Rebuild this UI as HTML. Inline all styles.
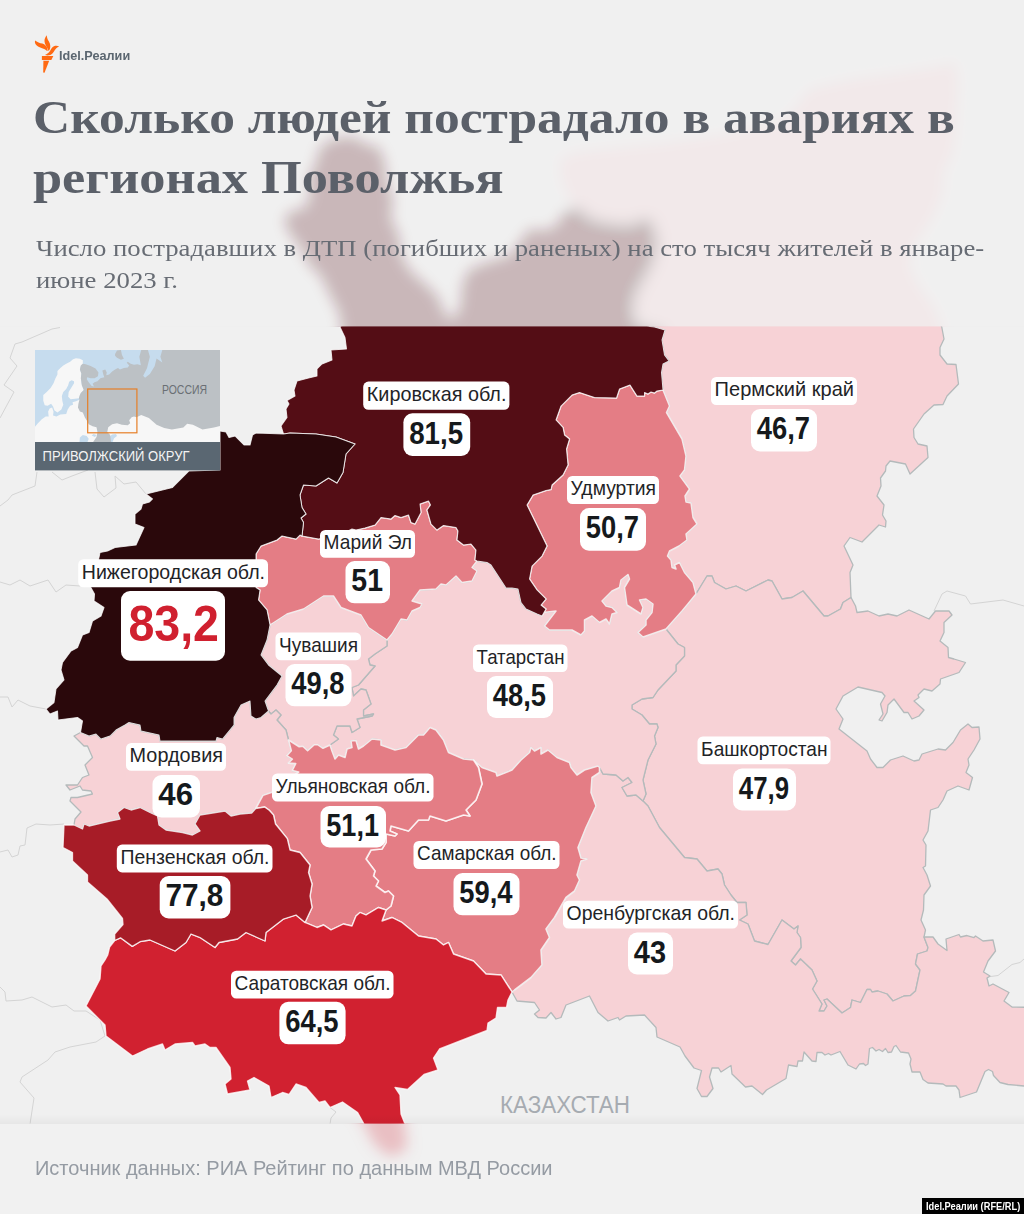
<!DOCTYPE html>
<html lang="ru"><head><meta charset="utf-8"><title>Сколько людей пострадало в авариях в регионах Поволжья</title>
<style>
html,body{margin:0;padding:0}
body{width:1024px;height:1214px;position:relative;overflow:hidden;background:#f0f0f0;font-family:"Liberation Sans",sans-serif}
.map{position:absolute;left:0;top:0;display:block}
.nm{font:20.3px "Liberation Sans",sans-serif;fill:#1f2427}
.vl{font:bold 31px "Liberation Sans",sans-serif;fill:#15191c}
.big{font:bold 49.6px "Liberation Sans",sans-serif;fill:#d0202f}
.shade{position:absolute;left:0;top:1113.6px;width:1024px;height:10px;background:linear-gradient(rgba(0,0,0,0),rgba(0,0,0,.04))}
.logo{position:absolute;left:0;top:0}
.brand{position:absolute;left:59px;top:48.1px;font:bold 12.3px/16px "Liberation Sans",sans-serif;color:#5b6670;white-space:nowrap;transform-origin:0 0;transform:scaleX(1.03)}
h1{position:absolute;left:33.4px;top:86.5px;margin:0;font:bold 47px/60.4px "Liberation Serif",serif;color:#5b6069;white-space:nowrap}
h1 span{display:block;transform-origin:0 0}
h1 .a{transform:scaleX(1.0945)}
h1 .b{transform:scaleX(1.114)}
.sub{position:absolute;left:36px;top:232.5px;margin:0;font:23px/32px "Liberation Serif",serif;color:#676c74;white-space:nowrap;transform-origin:0 0;transform:scaleX(1.1625)}
.src{position:absolute;left:35.2px;top:1155.8px;margin:0;font:20.5px/24px "Liberation Sans",sans-serif;color:#959ba3;white-space:nowrap;transform-origin:0 0;transform:scaleX(.9755)}
.badge{position:absolute;left:922px;top:1197.7px;width:102px;height:16.3px;background:#000;color:#fff;font:bold 11px/16.5px "Liberation Sans",sans-serif;white-space:nowrap;text-align:center}
.badge span{position:absolute;left:3.6px;top:0;display:block;transform-origin:0 0;transform:scaleX(.842)}
</style></head><body>
<svg class="map" width="1024" height="1214" viewBox="0 0 1024 1214">
<defs>
<filter id="bl" filterUnits="userSpaceOnUse" x="0" y="0" width="1024" height="1214"><feGaussianBlur stdDeviation="7"/></filter>
<clipPath id="ch"><rect x="0" y="0" width="1024" height="326.6"/></clipPath>
<clipPath id="cf"><rect x="0" y="1123.6" width="1024" height="90.4"/></clipPath>
<clipPath id="cm"><rect x="0" y="326.6" width="1024" height="797"/></clipPath>
</defs>
<g clip-path="url(#ch)"><g filter="url(#bl)">
<polygon points="654.5,327 600,300 574,207 562,182.6 559,160 574,153 618,148 667.6,143 717,136 756,128 786,118.6 798,104 810,89 854.6,79 894,74 938,67 955.5,62 958,84 955.5,128 953,153 943,172.7 943,192 933,217 913.7,246.5 908.8,266 918.6,286 933,305.6 941.75,327 944,339 940,347.5 940,355 947,364 956,364.5 958.5,384 947,396 943,404.5 934,405 924,414 913.5,429 914,437.5 918,444 927,446 928,457.5 910,474 905.5,464 890,461 886,466 885.5,471 880.5,478 881,486 877,496 884,505 882.5,515 886,521 885.5,527 879,525 862,542 850,537.5 844,546 853,565 850,572.5 851,597.5 843,602.5 840.5,609 828,616 824,616 803,591 792,597.5 782,599 772,581 768,580 746,591 736,586 726,589 714.5,582.5 712,576 707,576 696,594 693,582.5 684.5,572.5 679.5,562.5 674.5,565 676,569 672,567.5 671,560 667.5,556 669.5,551 679,546 687,540 686,534 697,524 693,517.5 691,503 686,502 685,496 689.5,489 680,476 684.5,470 686,456 682,439 666.5,412.5 669.5,406 663,390 661.5,372.5 663,364 669,361 664.5,355 662,340 665,330" fill="#f7d2d6"/>
<polygon points="283.5,434 281,426 287,417.5 286,409 289,404 287,400.5 295,396 294,390 297,381 308.5,378 317,376 317,369 322,364 332,360 331,350 346.5,349 345,337.5 340,327 341.5,325.6 339.5,313 329,293 321,276 308.7,264 300.5,247.7 288,231 284,219 292,210.7 304.6,208.7 310.8,194 308.7,178 317,161.5 319,149 333,139 354,137 366,145 378.4,147 384.6,161.5 386.6,182 392.8,198.4 390.7,219 399,235.4 401,255.9 411,272 425.6,284.6 438,297 444,313 452,319.4 460.5,309 462.5,284.6 468.7,270 489,262 509.7,255.9 522,239.5 530,229 546.6,231 559,223 567,208.7 579.4,206.6 591.7,217 608,221 628.6,223 645,217 653.7,221 660,242 654,265 645,281 638,294 635,306 636.5,322 650,326.5 654.5,327 665,330 662,340 664.5,355 669,361 663,364 661.5,372.5 663,390 657,391 654.5,393 651,392 648,394 644.5,392.5 644.5,396 637,396 630,385 619.5,389 616.5,398 594.5,397.5 579.5,392.5 572,395 561,406 556,420 563,427.5 564.5,435 569.5,439 566.5,449 568,465 563,475 552,485 551,489.5 546,490.5 533,495 527,505 547,546 542,556 532,566 529.5,579 537,590 546,599 541,605 546,609 542,616 537,614 526,609 521,602.5 518,589 512,588 506,588 491,565 487,562.5 477,561 475,560 476,550 471,544 463.5,545 457,540 458,531 456,527.5 443.5,525.5 437,530 431,524 427,510 430.5,505 428.5,501 420,504 421,512.5 415,524 411,522.5 408.5,515 401,517.5 395,515.5 391,519 381,517.5 375,525 365,528 356,530 352,529 340,535 318.5,539 302,536 303.5,522.5 301,518 306,514 302,507.5 300,495 303.5,485 316,486 328.5,478 337,483 343,472.5 346,454 355,444 336,437 316,434 290,433" fill="#540d15"/>
</g><rect x="0" y="0" width="1024" height="326.6" fill="#f0f0f0" fill-opacity=".75"/></g>
<g clip-path="url(#cf)"><g filter="url(#bl)">
<polygon points="114.7,940.5 109.6,947 107.7,955 105,960 101,966 100,979 86,1006 105,1025 106,1036 132.5,1056 147.5,1049 162.5,1044 165,1050 175,1044 192.5,1042.5 195,1046 205,1044 210,1047.5 216,1047.5 230,1067.5 231,1079 225,1084 227.5,1094 250,1090 247.5,1081 254,1077.5 269,1086 271,1097.5 282.5,1092.5 289,1094.5 296,1084 306,1087.5 319,1102.5 325,1101 330,1107.5 342.5,1102 357.6,1112.5 364,1124 374,1144 390,1157 407,1149 405,1124 401,1114 400,1095 395,1087.5 407.5,1089.5 424,1074.5 438,1070 433.5,1058 439.5,1049 487,1030.5 488,1023 496,1018 497.5,1007.5 506.5,1007.5 508,1000 512,992 501,975 486,974 473.5,961 453.5,954 448.5,942.5 443.5,945 436,939 418.5,936 402,922.5 392,917.5 382,921 386,910 378.5,907.5 366,915 360,912.5 356,916 352,926 343.5,924 331,930 323.5,925 317,927.5 305,922.5 296,915 283.5,919 266,932.5 265,941 256,937 246,932.5 237.5,939 219,942.5 215,947.5 200,937.5 191,934 186,942.5 175,951 150,940 140,941.7 132.3,946.4 120.5,937.8" fill="#d12130"/>
<polygon points="512,992 517,1001 534.5,1002.5 539.5,1010 534.5,1014 538,1017.5 546,1018 551,1012.5 556,1019 561,1017.5 566,1005 589.5,996 598,1012.5 608,1021 618,1017.5 619.5,1020 626,1016 644.5,1015 656,1027.5 657,1037 680,1047 685,1056 694,1068 701.5,1070.5 697,1088.5 701.5,1096.5 707,1096.5 713,1088.5 709.5,1077 712,1068 718.5,1068 721,1072 731,1065.5 732,1074 745.5,1087 752,1086 762.5,1094.5 766.5,1090 786,1078.5 788.5,1065 797,1066.5 798,1061 802.5,1061 804,1052 812,1061 816,1061.5 817,1052.5 822,1052.5 825,1055 828.5,1053.5 831,1055 840,1051.5 848,1065 856,1069 859.5,1064 863.5,1063.5 865.5,1065.5 868,1064 869.5,1048.5 872.5,1047.5 876,1051 879,1049.5 882.5,1051.5 885.5,1048.5 888,1052.5 891.5,1052 894,1046.5 896,1045.5 900.5,1052 908.5,1053 911,1059 910,1064 912,1072 920,1072 923,1079.5 928,1083 943,1084 946,1086 956,1086 959,1090 960,1097.5 976.5,1092 985,1071.5 988.5,1069.5 992.5,1071.5 993.5,1075.5 1000,1082.5 1008,1084.5 1024,1086 1034,1086 1034,1007.5 1012,1007 1004,1001 1009,992.5 993,984 989,986 987,978 990,976 983.5,972 988,961 995.5,951 993,940 983,941 975.5,936 974,937.5 967,935.5 960.5,937 959,934.5 946,939 947,950.5 938,944 933,937 924,937 928,947.5 927,951 917.5,954 915.5,964 920,970 915.5,991 910.5,995.5 904,996 893,1001 887,994 878,991 872,992 870.5,989.5 867,989.5 860.5,1002.5 852,1000 850.5,1007.5 842,1013 827,999 824,1000 827,1006 824,1011 819,1011 822,1004 812.5,989 817,981 812,970 800.5,959 795.5,965 791,961 801,947.5 800.5,937.5 797,932.5 798,926 794,929 782,920 768,944.5 754.5,941 748,924 739.5,920 747,915 746,902.5 737,902.5 731,895 724.5,885 722,874 718,869 707,871 697,859 684.5,857.5 659.5,827.5 648,806 643,801 636,795 627,796 622,787.5 632,782.5 628,777.5 623,781 616,775 603,774 599.5,767.5 599.5,772.5 592,777.5 591,792.5 596,806 593,812.5 586,827.5 578,847.5 581,858 587,859 581,861 577,875 579.5,880 574.5,891 566,897.5 554.5,917.5 546,929 549.5,937.5 541,950 542,965 531,977.5 514.5,990" fill="#f7d2d6"/>
</g><rect x="0" y="1123.6" width="1024" height="90.4" fill="#f0f0f0" fill-opacity=".76"/></g>
<g clip-path="url(#cm)">
<polyline points="60,327.5 52,329 22,342 15,344 10,358 17,366 4,385 14,392 0,418" fill="none" stroke="#d4d4d4" stroke-width="1"/>
<polyline points="0,506 8,500 12,495 35,486 37,472" fill="none" stroke="#d4d4d4" stroke-width="1"/>
<polyline points="52,472 62,480 72,476 88,470" fill="none" stroke="#d4d4d4" stroke-width="1"/>
<polyline points="95,472 97,489 104,497 116,488 115,476 124,484 136,482 146,494" fill="none" stroke="#d4d4d4" stroke-width="1"/>
<polyline points="0,582 10,585 20,580 30,586 48,580 56,592 66,585 80,586" fill="none" stroke="#d4d4d4" stroke-width="1"/>
<polyline points="0,697 8,697 12,707 18,700 30,706 46,709" fill="none" stroke="#d4d4d4" stroke-width="1"/>
<polyline points="0,852 8,850 12,857 18,855 20,846 25,845 27,828 36,824 50,825 64,824" fill="none" stroke="#d4d4d4" stroke-width="1"/>
<polyline points="0,987 5,992 6,1001 22,1000 32,997 44,1003 52,1007 66,1005 74,1011 86,1011 100,1020 105,1036" fill="none" stroke="#d4d4d4" stroke-width="1"/>
<polyline points="105,1036 96,1042 70,1047 55,1052 48,1060 22,1077 20,1082 34,1098 30,1124" fill="none" stroke="#d4d4d4" stroke-width="1"/>
<polyline points="934,611 942,594 947,591 965.5,596 970.5,604 1003,600 1024,606" fill="none" stroke="#d4d4d4" stroke-width="1"/>
<polyline points="987,977 998,975.5 1012,964.5 1020,962.5 1024,959" fill="none" stroke="#d4d4d4" stroke-width="1"/>
<polyline points="330,1107.5 336,1112 331,1118 330,1124" fill="none" stroke="#d4d4d4" stroke-width="1"/>
<polygon points="654.5,327 600,300 574,207 562,182.6 559,160 574,153 618,148 667.6,143 717,136 756,128 786,118.6 798,104 810,89 854.6,79 894,74 938,67 955.5,62 958,84 955.5,128 953,153 943,172.7 943,192 933,217 913.7,246.5 908.8,266 918.6,286 933,305.6 941.75,327 944,339 940,347.5 940,355 947,364 956,364.5 958.5,384 947,396 943,404.5 934,405 924,414 913.5,429 914,437.5 918,444 927,446 928,457.5 910,474 905.5,464 890,461 886,466 885.5,471 880.5,478 881,486 877,496 884,505 882.5,515 886,521 885.5,527 879,525 862,542 850,537.5 844,546 853,565 850,572.5 851,597.5 843,602.5 840.5,609 828,616 824,616 803,591 792,597.5 782,599 772,581 768,580 746,591 736,586 726,589 714.5,582.5 712,576 707,576 696,594 693,582.5 684.5,572.5 679.5,562.5 674.5,565 676,569 672,567.5 671,560 667.5,556 669.5,551 679,546 687,540 686,534 697,524 693,517.5 691,503 686,502 685,496 689.5,489 680,476 684.5,470 686,456 682,439 666.5,412.5 669.5,406 663,390 661.5,372.5 663,364 669,361 664.5,355 662,340 665,330" fill="#f7d2d6" stroke="#b4babb" stroke-width="1.3" stroke-linejoin="round"/>
<polygon points="851,597.5 855.5,606 857,612.5 868,611 879,616 888,614 897,616 909,610 929,619 935.5,611 949,611 952,615 944,622.5 944,632.5 940,641 948,647.5 948.5,657.5 954,659 965.5,662.5 959,672.5 940.5,679 940,684 932,691 924,689 918,695 919,697.5 914,701 924,710 919,716 912,719 908,712.5 904,712.5 894,699 888,705 887,712.5 882,721 879,720 883,714 880.5,704 885,696 882,692.5 858,687 843,696 836,709 843,719 839,729 867,751 870.5,759 877,767.5 883,767.5 890.5,760 903,756 914,761 919,760 922,754 938,749 945.5,750 953,742.5 960.5,730 968,724 972,727.5 979,727 980,739 974,750 968,759 969,765 966,772.5 972.5,777.5 969,790 958,786 947,791 943,800 938,807.5 930.5,810 928,831 923,840 926,845 925.5,866 923,867.5 927,875 930.5,886 924,895 923.5,910 921,920 925.5,930 924,937 928,947.5 927,951 917.5,954 915.5,964 920,970 915.5,991 910.5,995.5 904,996 893,1001 887,994 878,991 872,992 870.5,989.5 867,989.5 860.5,1002.5 852,1000 850.5,1007.5 842,1013 827,999 824,1000 827,1006 824,1011 819,1011 822,1004 812.5,989 817,981 812,970 800.5,959 795.5,965 791,961 801,947.5 800.5,937.5 797,932.5 798,926 794,929 782,920 768,944.5 754.5,941 748,924 739.5,920 747,915 746,902.5 737,902.5 731,895 724.5,885 722,874 718,869 707,871 697,859 684.5,857.5 659.5,827.5 648,806 643,801 646,794 643,780 648,760 656,744 654.5,736 658,727.5 657,724 649.5,724 642,715 632,709 632,705 642,699 653,697.5 658,690 676,671 676,665 684.5,656 684.5,647.5 678,644 666,629 682,611 687,605 696,594 707,576 712,576 714.5,582.5 726,589 736,586 746,591 768,580 772,581 782,599 792,597.5 803,591 824,616 828,616 840.5,609 843,602.5" fill="#f7d2d6" stroke="#b4babb" stroke-width="1.3" stroke-linejoin="round"/>
<polygon points="512,992 517,1001 534.5,1002.5 539.5,1010 534.5,1014 538,1017.5 546,1018 551,1012.5 556,1019 561,1017.5 566,1005 589.5,996 598,1012.5 608,1021 618,1017.5 619.5,1020 626,1016 644.5,1015 656,1027.5 657,1037 680,1047 685,1056 694,1068 701.5,1070.5 697,1088.5 701.5,1096.5 707,1096.5 713,1088.5 709.5,1077 712,1068 718.5,1068 721,1072 731,1065.5 732,1074 745.5,1087 752,1086 762.5,1094.5 766.5,1090 786,1078.5 788.5,1065 797,1066.5 798,1061 802.5,1061 804,1052 812,1061 816,1061.5 817,1052.5 822,1052.5 825,1055 828.5,1053.5 831,1055 840,1051.5 848,1065 856,1069 859.5,1064 863.5,1063.5 865.5,1065.5 868,1064 869.5,1048.5 872.5,1047.5 876,1051 879,1049.5 882.5,1051.5 885.5,1048.5 888,1052.5 891.5,1052 894,1046.5 896,1045.5 900.5,1052 908.5,1053 911,1059 910,1064 912,1072 920,1072 923,1079.5 928,1083 943,1084 946,1086 956,1086 959,1090 960,1097.5 976.5,1092 985,1071.5 988.5,1069.5 992.5,1071.5 993.5,1075.5 1000,1082.5 1008,1084.5 1024,1086 1034,1086 1034,1007.5 1012,1007 1004,1001 1009,992.5 993,984 989,986 987,978 990,976 983.5,972 988,961 995.5,951 993,940 983,941 975.5,936 974,937.5 967,935.5 960.5,937 959,934.5 946,939 947,950.5 938,944 933,937 924,937 928,947.5 927,951 917.5,954 915.5,964 920,970 915.5,991 910.5,995.5 904,996 893,1001 887,994 878,991 872,992 870.5,989.5 867,989.5 860.5,1002.5 852,1000 850.5,1007.5 842,1013 827,999 824,1000 827,1006 824,1011 819,1011 822,1004 812.5,989 817,981 812,970 800.5,959 795.5,965 791,961 801,947.5 800.5,937.5 797,932.5 798,926 794,929 782,920 768,944.5 754.5,941 748,924 739.5,920 747,915 746,902.5 737,902.5 731,895 724.5,885 722,874 718,869 707,871 697,859 684.5,857.5 659.5,827.5 648,806 643,801 636,795 627,796 622,787.5 632,782.5 628,777.5 623,781 616,775 603,774 599.5,767.5 599.5,772.5 592,777.5 591,792.5 596,806 593,812.5 586,827.5 578,847.5 581,858 587,859 581,861 577,875 579.5,880 574.5,891 566,897.5 554.5,917.5 546,929 549.5,937.5 541,950 542,965 531,977.5 514.5,990" fill="#f7d2d6" stroke="#b4babb" stroke-width="1.3" stroke-linejoin="round"/>
<polygon points="643,801 636,795 627,796 622,787.5 632,782.5 628,777.5 623,781 616,775 603,774 599.5,767.5 598,766 584.5,770 577,775 571,767.5 569.5,762.5 557,757.5 548,750 541,754 541,747.5 534.5,751 531,747.5 529.5,752.5 521,760 512,770 497,776 496,772.5 482,767.5 473.5,760 463.5,759 448.5,752.5 443.5,740 436,730 430,727.5 423.5,735 418.5,735 406,747.5 395,750 381,745 381,740 372,739 363.5,746 358.5,749 356,740.5 351,741 352,747.5 347,749 345,757.5 338.5,755 335,759 332,751 330,745 338.5,739 333.5,735 337,726 350,726 352,732.5 360,727.5 357,719 372,716 373.5,714 363.5,716 363.5,710 371,704 366,690 361,689 353.5,696 352,687.5 358.5,685 375,666 370,665 368.5,659 375,654 387,646 387,640 392,634 401,619 407,620 412,611 420,607.5 422,604 412,601 420,590 436,589 441,584 446,585 456,576 462,582.5 472,581 477,571 472,567.5 477,561 487,562.5 491,565 506,588 512,588 518,589 521,602.5 526,609 537,614 542,616 543,612.5 556,611 544.5,626 549.5,630 572,630 581,635 584.5,631 584.5,620 592,616 599.5,622.5 606,619 609.5,624 612,614 617,612.5 612,607.5 606,606 602,601 612,591 619.5,587.5 621,580 628,574.5 629.5,579 624.5,587.5 627,605 641,614 643,607.5 639.5,600 646,599 653,604 652,612.5 646,620 646,625 638,632.5 643,637 666,629 678,644 684.5,647.5 684.5,656 676,665 676,671 658,690 653,697.5 642,699 632,705 632,709 642,715 649.5,724 657,724 658,727.5 654.5,736 656,744 648,760 643,780 646,794" fill="#f7d2d6" stroke="#b4babb" stroke-width="1.3" stroke-linejoin="round"/>
<polygon points="268.5,711 265,701 277,685 282,676 268.5,665 261,655 267,640 270,625 287,614 303.5,609 323.5,596 333.5,596 341,607.5 361,615 368.5,627.5 387,640 387,646 375,654 368.5,659 370,665 375,666 358.5,685 352,687.5 353.5,696 361,689 366,690 371,704 363.5,710 363.5,716 373.5,714 372,716 357,719 360,727.5 352,732.5 350,726 337,726 333.5,735 338.5,739 330,745 323,748.3 318,744.8 314,744.8 307.6,750.75 303,746.3 299.2,746.8 288.5,740 286,730 277,720 281,715 276,710 271,714" fill="#f7d2d6" stroke="#b4babb" stroke-width="1.3" stroke-linejoin="round"/>
<polygon points="80.5,732.5 74,736 84,746 87.5,746 92.5,757.5 85,765 89,775 82.5,777.5 77.5,785 66,785 70,790 80,786 82.5,790 91,791 92.5,794 77.5,797.5 71,797.5 70,801 81,812 75,819 74,825 82.5,829 84,824 89,826 110,821 120,819 117.5,812.5 124,807.5 131,810 140,807.5 150,812.5 157.5,816 159,825 166,830 182.5,832.5 192.5,835 200,831 195,824 200,815 225,811 231,816 240,814 251.7,813 255.7,808.5 263.1,795.2 272,792.3 285,782 298.7,772 292.3,770.5 295.7,763.6 288.3,763.1 292.3,759.2 286.8,755.7 291.3,750.8 288.5,740 286,730 277,720 281,715 276,710 271,714 268.5,711 261,717.5 256,719 251,716 250,701 241,705 234,717.5 234,725 222.5,739 217,737.5 216,741 160,741 159,735 141,731 140,725 129,722.5 125,725 116,730 110,736 101,739 96,734 89,736" fill="#f7d2d6" stroke="#b4babb" stroke-width="1.3" stroke-linejoin="round"/>
<polygon points="386,910 382,921 392,917.5 402,922.5 418.5,936 436,939 443.5,945 448.5,942.5 453.5,954 473.5,961 486,974 501,975 512,992 514.5,990 531,977.5 542,965 541,950 549.5,937.5 546,929 554.5,917.5 566,897.5 574.5,891 579.5,880 577,875 581,861 587,859 581,858 578,847.5 586,827.5 593,812.5 596,806 591,792.5 592,777.5 599.5,772.5 599.5,767.5 598,766 584.5,770 577,775 571,767.5 569.5,762.5 557,757.5 548,750 541,754 541,747.5 534.5,751 531,747.5 529.5,752.5 521,760 512,770 497,776 496,772.5 482,767.5 473.5,760 478.5,767.5 482,784 476,800 466,810 470,816 463.5,815 446,821 430,816 428.5,820 418.5,820 408.5,831 391,826 390,831 397,834 395,836 386,834 386,842.5 382,849 371,850 366,859 375,871 373.5,876 378.5,881 376,886 385,892.5 388.5,891 393.5,896 391,906" fill="#e47d85" stroke="#fff" stroke-opacity="0.78" stroke-width="1.6" stroke-linejoin="round"/>
<polygon points="305,922.5 317,927.5 323.5,925 331,930 343.5,924 352,926 356,916 360,912.5 366,915 378.5,907.5 386,910 391,906 393.5,896 388.5,891 385,892.5 376,886 378.5,881 373.5,876 375,871 366,859 371,850 382,849 386,842.5 386,834 395,836 397,834 390,831 391,826 408.5,831 418.5,820 428.5,820 430,816 446,821 463.5,815 470,816 466,810 476,800 482,784 478.5,767.5 473.5,760 463.5,759 448.5,752.5 443.5,740 436,730 430,727.5 423.5,735 418.5,735 406,747.5 395,750 381,745 381,740 372,739 363.5,746 358.5,749 356,740.5 351,741 352,747.5 347,749 345,757.5 338.5,755 335,759 332,751 330,745 323,748.3 318,744.8 314,744.8 307.6,750.75 303,746.3 299.2,746.8 288.5,740 291.3,750.8 286.8,755.7 292.3,759.2 288.3,763.1 295.7,763.6 292.3,770.5 298.7,772 285,782 272,792.3 263.1,795.2 255.7,808.5 264.6,807 269.5,810.5 273.5,815 275.5,824 287.3,838.7 290,850 300,852.5 310,865 308.5,872.5 312,884 310,896 312,907.5" fill="#e47d85" stroke="#fff" stroke-opacity="0.78" stroke-width="1.6" stroke-linejoin="round"/>
<polygon points="542,616 546,609 541,605 546,599 537,590 529.5,579 532,566 542,556 547,546 527,505 533,495 546,490.5 551,489.5 552,485 563,475 568,465 566.5,449 569.5,439 564.5,435 563,427.5 556,420 561,406 572,395 579.5,392.5 594.5,397.5 616.5,398 619.5,389 630,385 637,396 644.5,396 644.5,392.5 648,394 651,392 654.5,393 657,391 663,390 669.5,406 666.5,412.5 682,439 686,456 684.5,470 680,476 689.5,489 685,496 686,502 691,503 693,517.5 697,524 686,534 687,540 679,546 669.5,551 667.5,556 671,560 672,567.5 676,569 674.5,565 679.5,562.5 684.5,572.5 693,582.5 696,594 687,605 682,611 666,629 643,637 638,632.5 646,625 646,620 652,612.5 653,604 646,599 639.5,600 643,607.5 641,614 627,605 624.5,587.5 629.5,579 628,574.5 621,580 619.5,587.5 612,591 602,601 606,606 612,607.5 617,612.5 612,614 609.5,624 606,619 599.5,622.5 592,616 584.5,620 584.5,631 581,635 572,630 549.5,630 544.5,626 556,611 543,612.5" fill="#e47d85" stroke="#fff" stroke-opacity="0.78" stroke-width="1.5" stroke-linejoin="round"/>
<polygon points="302,536 318.5,539 340,535 352,529 356,530 365,528 375,525 381,517.5 391,519 395,515.5 401,517.5 408.5,515 411,522.5 415,524 421,512.5 420,504 428.5,501 430.5,505 427,510 431,524 437,530 443.5,525.5 456,527.5 458,531 457,540 463.5,545 471,544 476,550 475,560 477,561 472,567.5 477,571 472,581 462,582.5 456,576 446,585 441,584 436,589 420,590 412,601 422,604 420,607.5 412,611 407,620 401,619 392,634 387,640 368.5,627.5 361,615 341,607.5 333.5,596 323.5,596 303.5,609 287,614 270,625 267,610 258.5,600 260,590 256,587.5 256,554 261,546 277,540 282,536 296,539 300,535" fill="#e47d85" stroke="#fff" stroke-opacity="0.78" stroke-width="1.4" stroke-linejoin="round"/>
<polygon points="114.7,940.5 109.6,947 107.7,955 105,960 101,966 100,979 86,1006 105,1025 106,1036 132.5,1056 147.5,1049 162.5,1044 165,1050 175,1044 192.5,1042.5 195,1046 205,1044 210,1047.5 216,1047.5 230,1067.5 231,1079 225,1084 227.5,1094 250,1090 247.5,1081 254,1077.5 269,1086 271,1097.5 282.5,1092.5 289,1094.5 296,1084 306,1087.5 319,1102.5 325,1101 330,1107.5 342.5,1102 357.6,1112.5 364,1124 374,1144 390,1157 407,1149 405,1124 401,1114 400,1095 395,1087.5 407.5,1089.5 424,1074.5 438,1070 433.5,1058 439.5,1049 487,1030.5 488,1023 496,1018 497.5,1007.5 506.5,1007.5 508,1000 512,992 501,975 486,974 473.5,961 453.5,954 448.5,942.5 443.5,945 436,939 418.5,936 402,922.5 392,917.5 382,921 386,910 378.5,907.5 366,915 360,912.5 356,916 352,926 343.5,924 331,930 323.5,925 317,927.5 305,922.5 296,915 283.5,919 266,932.5 265,941 256,937 246,932.5 237.5,939 219,942.5 215,947.5 200,937.5 191,934 186,942.5 175,951 150,940 140,941.7 132.3,946.4 120.5,937.8" fill="#d12130" stroke="#fff" stroke-opacity="0.78" stroke-width="1.35" stroke-linejoin="round"/>
<polygon points="74,825 64,825 63,847.5 72.5,852.5 72.5,861 87.5,875 87.5,882 107,899 122.5,918.5 123,924.5 114.7,934 114.7,940.5 120.5,937.8 132.3,946.4 140,941.7 150,940 175,951 186,942.5 191,934 200,937.5 215,947.5 219,942.5 237.5,939 246,932.5 256,937 265,941 266,932.5 283.5,919 296,915 305,922.5 312,907.5 310,896 312,884 308.5,872.5 310,865 300,852.5 290,850 287.3,838.7 275.5,824 273.5,815 269.5,810.5 264.6,807 255.7,808.5 251.7,813 240,814 231,816 225,811 200,815 195,824 200,831 192.5,835 182.5,832.5 166,830 159,825 157.5,816 150,812.5 140,807.5 131,810 124,807.5 117.5,812.5 120,819 110,821 89,826 84,824 82.5,829" fill="#a71c27" stroke="#fff" stroke-opacity="0.78" stroke-width="1.3" stroke-linejoin="round"/>
<polygon points="283.5,434 281,426 287,417.5 286,409 289,404 287,400.5 295,396 294,390 297,381 308.5,378 317,376 317,369 322,364 332,360 331,350 346.5,349 345,337.5 340,327 341.5,325.6 339.5,313 329,293 321,276 308.7,264 300.5,247.7 288,231 284,219 292,210.7 304.6,208.7 310.8,194 308.7,178 317,161.5 319,149 333,139 354,137 366,145 378.4,147 384.6,161.5 386.6,182 392.8,198.4 390.7,219 399,235.4 401,255.9 411,272 425.6,284.6 438,297 444,313 452,319.4 460.5,309 462.5,284.6 468.7,270 489,262 509.7,255.9 522,239.5 530,229 546.6,231 559,223 567,208.7 579.4,206.6 591.7,217 608,221 628.6,223 645,217 653.7,221 660,242 654,265 645,281 638,294 635,306 636.5,322 650,326.5 654.5,327 665,330 662,340 664.5,355 669,361 663,364 661.5,372.5 663,390 657,391 654.5,393 651,392 648,394 644.5,392.5 644.5,396 637,396 630,385 619.5,389 616.5,398 594.5,397.5 579.5,392.5 572,395 561,406 556,420 563,427.5 564.5,435 569.5,439 566.5,449 568,465 563,475 552,485 551,489.5 546,490.5 533,495 527,505 547,546 542,556 532,566 529.5,579 537,590 546,599 541,605 546,609 542,616 537,614 526,609 521,602.5 518,589 512,588 506,588 491,565 487,562.5 477,561 475,560 476,550 471,544 463.5,545 457,540 458,531 456,527.5 443.5,525.5 437,530 431,524 427,510 430.5,505 428.5,501 420,504 421,512.5 415,524 411,522.5 408.5,515 401,517.5 395,515.5 391,519 381,517.5 375,525 365,528 356,530 352,529 340,535 318.5,539 302,536 303.5,522.5 301,518 306,514 302,507.5 300,495 303.5,485 316,486 328.5,478 337,483 343,472.5 346,454 355,444 336,437 316,434 290,433" fill="#540d15" stroke="#fff" stroke-opacity="0.78" stroke-width="1.05" stroke-linejoin="round"/>
<polygon points="283.5,434 256,433 252.5,435 250,445 244,445 235,436 229,437.5 226,432 220,431 220,470 189,471 172.5,487.5 146,494 152.5,499 149.5,502 142.5,504 141,509 135,514 135,524 144,527.5 136,545 115,547.5 107.5,551 100,552.5 99,557.5 90,586 94.5,594 94,601 104,607.5 101,616 92.5,621 89,632.5 82.5,635 77.5,647.5 71,651 62.5,662.5 61,670 64,680 56,689 54,702.5 46,709 50,714 57.5,711 58,720 77.5,717.5 82.5,721 80.5,732.5 89,736 96,734 101,739 110,736 116,730 125,725 129,722.5 140,725 141,731 159,735 160,741 216,741 217,737.5 222.5,739 234,725 234,717.5 241,705 250,701 251,716 256,719 261,717.5 268.5,711 265,701 277,685 282,676 268.5,665 261,655 267,640 270,625 267,610 258.5,600 260,590 256,587.5 256,554 261,546 277,540 282,536 296,539 300,535 302,536 303.5,522.5 301,518 306,514 302,507.5 300,495 303.5,485 316,486 328.5,478 337,483 343,472.5 346,454 355,444 336,437 316,434 290,433" fill="#2a080b" stroke="#fff" stroke-opacity="0.78" stroke-width="1.05" stroke-linejoin="round"/>
</g>
<g transform="translate(35,350)">
<rect width="185" height="92" fill="#c6dcee"/>
<clipPath id="ic"><rect width="185" height="92"/></clipPath><g clip-path="url(#ic)">
<polygon points="-1,78.1016 2.90625,73.2188 6.8125,69.3125 10.7188,66.3828 13.6484,66.3828 13.1602,61.5 14.625,58.5703 17.0664,57.5938 18.5312,61.5 18.043,65.4062 21.4609,66.3828 25.3672,64.4297 31.2266,63.9414 32.6914,59.5469 35.1328,55.6406 38.0625,54.6641 37.5742,52.2227 40.9922,51.2461 44.4102,49.7812 47.8281,47.8281 67.3594,47.8281 102.412,52.6417 186.639,52.6417 186.639,93.7979 -0.957121,93.7979" fill="#f7f7f7"/>
<polygon points="47.8281,10.2305 44.8984,8.76562 40.9922,8.27734 38.0625,9.25391 35.1328,11.6953 31.2266,13.6484 28.2969,15.6016 25.3672,18.043 22.4375,20.9727 22.4375,24.3906 20.4844,28.2969 18.5312,33.1797 15.6016,38.0625 11.6953,41.9688 8.27734,44.8984 8.27734,50.7578 9.74219,55.1523 12.6719,55.6406 16.0898,53.6875 18.043,56.6172 19.5078,60.5234 22.4375,62.4766 26.3438,59.5469 28.2969,54.6641 27.3203,50.7578 26.832,45.875 28.2969,41.9688 31.2266,39.0391 33.1797,35.1328 34.1562,31.7148 36.5977,30.25 39.0391,31.2266 39.0391,33.1797 36.1094,38.0625 33.668,41.9688 33.1797,46.8516 35.6211,49.293 40.0156,48.8047 43.9219,48.3164 44.8984,44.8984 45.875,42.9453 48.8047,40.0156 46.8516,35.1328 45.875,28.2969 46.3633,23.4141 44.8984,19.5078 45.875,15.6016 47.8281,13.6484" fill="#f7f7f7"/>
<polygon points="44.8984,87.3789 47.8281,84.9375 51.7344,85.9141 53.6875,88.8438 52.2227,92.75 44.4102,92.75" fill="#c6dcee"/>
<polygon points="74.1953,86.8906 77.125,84.4492 81.0312,83.9609 82.0078,85.9141 79.0781,88.3555 77.125,92.75 74.1953,92.75" fill="#c6dcee"/>
<polygon points="56.6172,85.4258 58.5703,83.9609 61.5,84.9375 60.0352,86.8906" fill="#c6dcee"/>
<polygon points="47.8281,13.6484 50.7578,14.1367 55.6406,16.0898 60.5234,18.5312 63.4531,22.4375 62.9648,26.3438 59.5469,28.2969 55.6406,28.2969 52.2227,27.3203 51.7344,29.2734 53.6875,32.2031 56.6172,36.1094 59.0586,36.5977 57.5938,33.668 59.5469,32.2031 62.4766,31.2266 65.4062,28.2969 69.3125,27.3203 68.3359,24.3906 67.3594,20.4844 70.2891,19.5078 71.7539,22.4375 71.2656,25.3672 74.1953,24.3906 77.125,21.4609 80.0547,19.5078 82.9844,18.043 84.9375,19.5078 88.8438,18.043 92.75,17.5547 94.2148,15.6016 91.7734,12.6719 92.75,11.6953 95.6797,13.6484 99,14.625 102.412,14.3568 105.858,15.3139 104.326,6.69985 106.24,0 112.94,0 114.855,6.69985 111.983,18.1853 108.155,25.8423 110.069,27.7565 114.855,23.928 119.64,16.2711 121.554,8.61409 127.297,12.4426 125.383,6.69985 127.297,0 186.639,0 186.639,75.6126 178.982,77.5268 167.496,79.441 157.925,74.8469 152.182,73.6983 148.354,77.5268 136.868,79.441 129.211,77.9096 121.554,74.6554 113.897,67.9556 106.24,65.0842 101.455,67.1899 99,66.3828 96.6562,67.3594 94.2148,70.2891 95.1914,73.2188 92.75,75.1719 86.8906,74.6836 82.0078,73.2188 77.125,74.1953 73.2188,77.125 72.2422,82.0078 75.1719,84.9375 76.1484,92.75 57.5938,92.75 61.5,86.8906 62.4766,82.0078 61.5,77.125 57.5938,76.1484 53.6875,74.1953 52.2227,71.2656 49.7812,67.3594 47.8281,62.4766 44.8984,61.5 42.9453,57.5938 43.4336,53.6875 44.4102,49.7812 43.9219,48.3164 44.8984,44.8984 45.875,42.9453 48.8047,40.0156 46.8516,35.1328 45.875,28.2969 46.3633,23.4141 44.8984,19.5078 45.875,15.6016" fill="#bcc1c5"/>
<polygon points="80.0547,3.88281 82.0078,0.464844 85.9141,-0.0234375 86.8906,4.85938 88.8438,8.76562 85.9141,9.74219 82.0078,7.78906 80.0547,5.83594" fill="#bcc1c5"/>
</g>
<rect x="52.7" y="39" width="49.2" height="43.8" fill="none" stroke="#e67f27" stroke-width="1.2"/>
<text x="127" y="44.4" textLength="45" lengthAdjust="spacingAndGlyphs" style="font:13px 'Liberation Sans',sans-serif;fill:#6a6f74">РОССИЯ</text>
<rect y="92" width="185" height="28.4" fill="#5a6772"/>
<text x="7.6" y="111.3" textLength="147" lengthAdjust="spacingAndGlyphs" style="font:14px 'Liberation Sans',sans-serif;fill:#f4f4f4">ПРИВОЛЖСКИЙ ОКРУГ</text>
</g>
<rect x="363.2" y="381.6" width="146.2" height="28.1" rx="5.3" fill="#fff"/>
<text x="366.8" y="400.9" textLength="139.6" lengthAdjust="spacingAndGlyphs" class="nm">Кировская обл.</text>
<rect x="711" y="377" width="146" height="28" rx="5.3" fill="#fff"/>
<text x="714.6" y="396.3" textLength="139.4" lengthAdjust="spacingAndGlyphs" class="nm">Пермский край</text>
<rect x="567" y="476" width="92" height="28" rx="5.3" fill="#fff"/>
<text x="570.6" y="495.3" textLength="85.4" lengthAdjust="spacingAndGlyphs" class="nm">Удмуртия</text>
<rect x="320" y="530" width="95" height="27.7" rx="5.3" fill="#fff"/>
<text x="323.6" y="549.3" textLength="88.4" lengthAdjust="spacingAndGlyphs" class="nm">Марий Эл</text>
<rect x="78.2" y="559.3" width="189.8" height="28" rx="5.3" fill="#fff"/>
<text x="81.8" y="578.6" textLength="183.2" lengthAdjust="spacingAndGlyphs" class="nm">Нижегородская обл.</text>
<rect x="275.5" y="632.5" width="85.5" height="27.8" rx="5.3" fill="#fff"/>
<text x="279.1" y="651.8" textLength="78.9" lengthAdjust="spacingAndGlyphs" class="nm">Чувашия</text>
<rect x="473" y="644.4" width="94.5" height="27.6" rx="5.3" fill="#fff"/>
<text x="476.6" y="663.7" textLength="87.9" lengthAdjust="spacingAndGlyphs" class="nm">Татарстан</text>
<rect x="126" y="743" width="100" height="27.7" rx="5.3" fill="#fff"/>
<text x="129.6" y="762.3" textLength="93.4" lengthAdjust="spacingAndGlyphs" class="nm">Мордовия</text>
<rect x="272" y="773.4" width="161.5" height="28.2" rx="5.3" fill="#fff"/>
<text x="275.6" y="792.7" textLength="154.9" lengthAdjust="spacingAndGlyphs" class="nm">Ульяновская обл.</text>
<rect x="697.5" y="736.5" width="133" height="27.8" rx="5.3" fill="#fff"/>
<text x="701.1" y="755.8" textLength="126.4" lengthAdjust="spacingAndGlyphs" class="nm">Башкортостан</text>
<rect x="116.8" y="844.6" width="155.7" height="27.8" rx="5.3" fill="#fff"/>
<text x="120.4" y="863.9" textLength="149.1" lengthAdjust="spacingAndGlyphs" class="nm">Пензенская обл.</text>
<rect x="413.5" y="841" width="146" height="28" rx="5.3" fill="#fff"/>
<text x="417.1" y="860.3" textLength="139.4" lengthAdjust="spacingAndGlyphs" class="nm">Самарская обл.</text>
<rect x="563" y="900.7" width="175" height="27.8" rx="5.3" fill="#fff"/>
<text x="566.6" y="920" textLength="168.4" lengthAdjust="spacingAndGlyphs" class="nm">Оренбургская обл.</text>
<rect x="231" y="970.7" width="162.5" height="27.8" rx="5.3" fill="#fff"/>
<text x="234.6" y="990" textLength="155.9" lengthAdjust="spacingAndGlyphs" class="nm">Саратовская обл.</text>
<rect x="403.4" y="413.3" width="66.8" height="42.7" rx="9" fill="#fff"/>
<text x="409.2" y="443.7" textLength="54" lengthAdjust="spacingAndGlyphs" class="vl">81,5</text>
<rect x="751" y="409" width="66" height="42.5" rx="9" fill="#fff"/>
<text x="756.8" y="439.4" textLength="53.2" lengthAdjust="spacingAndGlyphs" class="vl">46,7</text>
<rect x="580" y="508" width="66" height="42.7" rx="9" fill="#fff"/>
<text x="585.8" y="538.4" textLength="53.2" lengthAdjust="spacingAndGlyphs" class="vl">50,7</text>
<rect x="345.5" y="561" width="44.5" height="42.3" rx="9" fill="#fff"/>
<text x="351.3" y="591.4" textLength="31.7" lengthAdjust="spacingAndGlyphs" class="vl">51</text>
<rect x="285.5" y="664" width="66" height="42.3" rx="9" fill="#fff"/>
<text x="291.3" y="694.4" textLength="53.2" lengthAdjust="spacingAndGlyphs" class="vl">49,8</text>
<rect x="487" y="676" width="66" height="42" rx="9" fill="#fff"/>
<text x="492.8" y="706.4" textLength="53.2" lengthAdjust="spacingAndGlyphs" class="vl">48,5</text>
<rect x="152.5" y="775" width="47.5" height="42.5" rx="9" fill="#fff"/>
<text x="158.3" y="805.4" textLength="34.7" lengthAdjust="spacingAndGlyphs" class="vl">46</text>
<rect x="320.5" y="806" width="65.5" height="41.5" rx="9" fill="#fff"/>
<text x="326.3" y="836.4" textLength="52.7" lengthAdjust="spacingAndGlyphs" class="vl">51,1</text>
<rect x="733" y="768.5" width="63" height="42" rx="9" fill="#fff"/>
<text x="738.8" y="798.9" textLength="50.2" lengthAdjust="spacingAndGlyphs" class="vl">47,9</text>
<rect x="159.7" y="876" width="70.7" height="42.5" rx="9" fill="#fff"/>
<text x="165.5" y="906.4" textLength="57.9" lengthAdjust="spacingAndGlyphs" class="vl">77,8</text>
<rect x="453.5" y="873" width="66" height="42.3" rx="9" fill="#fff"/>
<text x="459.3" y="903.4" textLength="53.2" lengthAdjust="spacingAndGlyphs" class="vl">59,4</text>
<rect x="628" y="932.5" width="45" height="42" rx="9" fill="#fff"/>
<text x="633.8" y="962.9" textLength="32.2" lengthAdjust="spacingAndGlyphs" class="vl">43</text>
<rect x="279.4" y="1001.8" width="66.2" height="42.5" rx="9" fill="#fff"/>
<text x="285.2" y="1032.2" textLength="53.4" lengthAdjust="spacingAndGlyphs" class="vl">64,5</text>
<rect x="121" y="591" width="104" height="69.7" rx="9" fill="#fff"/>
<text x="128.4" y="641" textLength="90.6" lengthAdjust="spacingAndGlyphs" class="big">83,2</text>
<text x="500" y="1112.7" textLength="130" lengthAdjust="spacingAndGlyphs" style="font:23px 'Liberation Sans',sans-serif;fill:#a6abb1">КАЗАХСТАН</text>
</svg>
<div class="shade"></div>
<svg class="logo" width="70" height="80" viewBox="0 0 70 80">
<g fill="#ff6a13">
<path d="M35.1,40.4 C37,42 40,42.9 42.3,43.6 C45,44.5 46.6,46.2 47.4,48.6 L47.7,50.9 L46.8,50.8 C45.6,49.6 44,48.9 42.1,48.2 C39.6,47.4 37.2,46.2 35.8,44.4 C34.9,43.2 34.7,41.8 35.1,40.4 Z"/>
<path d="M46.8,35.2 C45.4,36.8 44.5,38.8 44.5,40.8 C44.5,43 45.4,44.8 46.4,46.4 C47.3,47.9 48.2,49.4 48.6,50.9 C49.6,50 50.2,48.4 50.3,46.4 C50.4,44.4 49.6,42.6 48.6,41 C47.5,39.2 46.8,37.4 46.8,35.2 Z"/>
<path d="M59.1,46.4 C57.6,45.7 55.6,45.6 53.9,46.3 C52.2,47.1 51.2,48.8 50.3,50.6 C49.3,52.5 47.6,54 45,55 C46.6,55.6 48.6,55.6 50.2,55 C52.2,54.2 53.4,52.6 54.4,50.8 C55.5,48.8 56.9,47.2 59.1,46.4 Z"/>
<path d="M41.9,56.05 L53.3,56.05 L51.3,59.9 L41.9,59.9 Z"/>
<path d="M43.4,60.8 L49.2,60.8 L44.5,72.8 L43.2,72.6 Z"/>
</g></svg>
<div class="brand">Idel.Реалии</div>
<h1><span class="a">Сколько людей пострадало в авариях в</span><span class="b">регионах Поволжья</span></h1>
<p class="sub">Число пострадавших в ДТП (погибших и раненых) на сто тысяч жителей в январе-<br>июне 2023 г.</p>
<p class="src">Источник данных: РИА Рейтинг по данным МВД России</p>
<div class="badge"><span>Idel.Реалии (RFE/RL)</span></div>
</body></html>
